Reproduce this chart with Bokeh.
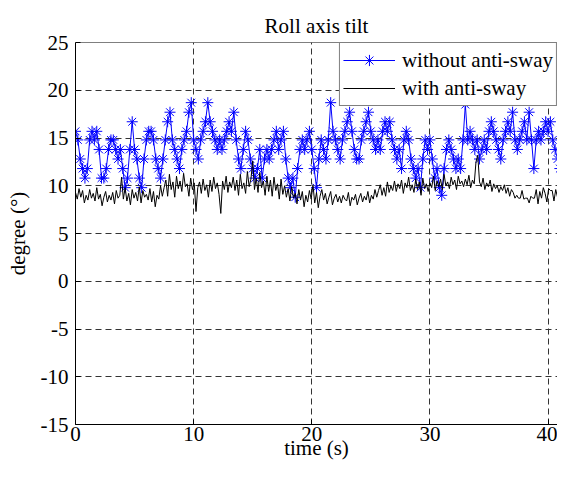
import numpy as np
from bokeh.plotting import figure
from bokeh.models import Range1d, FixedTicker, Legend, LegendItem, Span
from bokeh.embed import file_html
from bokeh.resources import INLINE

FONT = "Liberation Serif"

title_text = "Roll axis tilt"
x_label = "time (s)"
y_label = "degree (\u00b0)"
x_ticks = [0, 10, 20, 30, 40]
y_ticks = [-15, -10, -5, 0, 5, 10, 15, 20, 25]
y_tick_labels = ["-15", "-10", "-5", "0", "5", "10", "15", "20", "25"]
series_names = ["without anti-sway", "with anti-sway"]

# sample interval (s) of each recording
dt_without = 0.2
dt_with = 0.15

without_sway = [
    15.7, 14.8, 12.8, 11.8, 10.8,
    11.8, 14.8, 15.7, 14.8, 15.7,
    13.8, 10.8, 10.8, 11.8, 13.8,
    14.8, 14.8, 13.8, 12.8, 13.8,
    11.8, 9.8, 10.8, 13.8, 16.7,
    13.8, 12.8, 10.8, 9.8, 12.8,
    14.8, 15.7, 15.7, 14.8, 12.8,
    11.8, 10.8, 12.8, 14.8, 16.7,
    17.7, 14.8, 13.8, 12.8, 11.8,
    13.8, 14.8, 15.7, 17.7, 18.7,
    14.8, 13.8, 12.8, 14.8, 15.7,
    16.7, 18.7, 16.7, 15.7, 14.8,
    13.8, 14.8, 13.8, 14.8, 15.7,
    16.7, 15.7, 17.7, 14.8, 12.8,
    11.8, 13.8, 15.7, 14.8, 12.8,
    11.8, 10.8, 11.8, 13.8, 10.8,
    12.8, 13.8, 12.8, 13.8, 14.8,
    15.7, 13.8, 14.8, 15.7, 12.8,
    10.8, 9.8, 10.8, 8.8, 11.8,
    13.8, 14.8, 13.8, 14.8, 15.7,
    13.8, 11.8, 9.8, 12.8, 14.8,
    13.8, 12.8, 14.8, 18.7, 15.7,
    14.8, 13.8, 12.8, 14.8, 15.7,
    16.7, 17.7, 15.7, 13.8, 12.8,
    12.8, 14.8, 15.7, 16.7, 17.7,
    15.7, 14.8, 13.8, 14.8, 13.8,
    15.7, 16.7, 15.7, 16.7, 14.8,
    13.8, 12.8, 13.8, 11.8, 14.8,
    15.7, 14.8, 12.8, 11.8, 10.8,
    11.8, 9.8, 12.8, 14.8, 13.8,
    14.8, 12.8, 10.8, 11.8, 9.8,
    9.0, 11.8, 13.8, 14.8, 13.8,
    12.8, 11.8, 12.8, 11.8, 14.8,
    18.5, 14.8, 15.7, 14.8, 13.8,
    14.8, 12.8, 13.8, 14.8, 13.8,
    15.7, 16.7, 15.7, 14.8, 13.8,
    12.8, 14.8, 15.7, 16.7, 15.7,
    17.7, 14.8, 13.8, 14.8, 15.7,
    16.7, 14.8, 17.7, 14.8, 11.8,
    14.8, 15.7, 14.8, 15.7, 16.7,
    15.7, 16.7, 14.8, 13.8, 12.8,
    11.8, 13.8, 14.8, 15.7, 16.7,
    14.8,
]

with_sway = [
    9.3, 8.6, 9.7, 8.8, 9.5, 8.2, 9.0, 8.5, 9.6, 8.7,
    9.2, 8.4, 9.8, 8.6, 9.1, 7.9, 8.8, 9.4, 8.3, 9.0,
    8.5, 9.3, 8.1, 9.5, 8.7, 9.0, 10.9, 8.6, 9.8, 8.4,
    9.2, 8.0, 9.6, 8.7, 9.3, 8.4, 9.9, 8.2, 9.5, 8.8,
    9.1, 8.5, 9.7, 8.3, 9.4, 7.8, 9.0, 8.6, 10.0, 8.9,
    9.8, 10.6, 8.9, 11.2, 9.6, 10.4, 8.8, 11.0, 9.7, 10.5,
    9.4, 11.3, 9.9, 10.2, 8.9, 10.8, 9.6, 10.3, 7.3, 9.8,
    10.4, 9.2, 10.7, 9.5, 10.1, 8.8, 10.6, 9.4, 10.9, 9.7,
    10.3, 9.1, 7.1, 10.5, 9.6, 11.0, 9.3, 10.4, 9.8, 10.9,
    9.5, 10.6, 9.0, 11.2, 9.7, 10.3, 9.2, 11.5, 9.9, 10.7,
    12.6, 9.6, 10.8, 9.3, 11.4, 9.8, 10.5, 9.0, 11.0, 9.4,
    10.6, 8.9, 10.9, 9.5, 10.2, 8.6, 10.7, 9.1, 10.0, 8.8,
    9.7, 8.4, 9.9, 8.7, 9.2, 8.1, 9.6, 8.5, 9.4, 7.8,
    9.0, 8.3, 9.5, 8.6, 10.1, 8.2, 9.3, 7.7, 8.9, 9.6,
    8.5, 9.2, 8.1, 8.8, 9.4, 8.0, 8.7, 9.1, 8.3, 8.9,
    8.2, 9.0, 8.6, 8.4, 9.3, 7.9, 8.8, 8.5, 9.1, 8.0,
    8.7, 9.2, 8.3, 8.9, 8.5, 9.4, 8.2, 9.0, 8.6, 9.6,
    8.8, 9.5, 10.1, 9.0, 9.8, 8.9, 10.4, 9.3, 10.0, 9.5,
    10.5, 9.4, 10.2, 9.7, 10.6, 9.2, 10.3, 9.8, 10.9, 9.5,
    10.1, 9.3, 10.7, 9.6, 10.4, 9.0, 10.8, 9.7, 10.2, 9.4,
    10.3, 9.8, 11.0, 9.5, 10.5, 9.9, 10.7, 9.6, 11.2, 10.0,
    10.4, 9.7, 10.9, 10.1, 10.6, 9.6, 11.0, 10.2, 10.5, 9.9,
    10.7, 10.1, 11.1, 9.8, 10.6, 10.2, 12.5, 13.2, 10.4, 9.9,
    10.8, 9.6, 10.3, 9.9, 10.6, 9.4, 10.2, 9.7, 10.0, 9.3,
    9.9, 9.5, 10.1, 9.2, 9.8, 8.9, 9.6, 9.3, 8.7, 9.0,
    8.7, 8.7, 9.5, 8.6, 8.7, 8.7, 8.2, 8.9, 8.7, 8.7,
    9.6, 8.1, 9.4, 8.7, 9.8, 9.2, 8.3, 9.7, 9.5, 9.5,
    8.4, 9.6, 8.8, 8.2, 9.5, 9.0, 8.7, 9.3, 8.5, 9.8,
    9.0,
]

t_without = np.arange(len(without_sway)) * dt_without
t_with = np.arange(len(with_sway)) * dt_with

p = figure(width=557, height=462, output_backend="svg", toolbar_location=None,
           x_range=Range1d(0, 40.8), y_range=Range1d(-15, 25),
           min_border_left=75, min_border_right=0, min_border_top=42,
           min_border_bottom=38, background_fill_color="white",
           border_fill_color="white", outline_line_color=None)

p.title.text = title_text
p.title.align = "center"
p.title.text_font = FONT
p.title.text_font_size = "21px"
p.title.text_font_style = "normal"
p.title.text_color = "black"
p.title.standoff = 9

for ax, ticks in ((p.xaxis, x_ticks), (p.yaxis, y_ticks)):
    ax.ticker = FixedTicker(ticks=ticks)
    ax.major_tick_in = 5
    ax.major_tick_out = 0
    ax.minor_tick_line_color = None
    ax.axis_line_color = "black"
    ax.major_tick_line_color = "black"
    ax.major_label_text_font = FONT
    ax.major_label_text_font_size = "21px"
    ax.major_label_text_color = "black"
    ax.axis_label_text_font = FONT
    ax.axis_label_text_font_size = "21px"
    ax.axis_label_text_font_style = "normal"
    ax.axis_label_text_color = "black"

p.yaxis.major_label_overrides = {t: s for t, s in zip(y_ticks, y_tick_labels)}
p.xaxis.axis_label = x_label
p.yaxis.axis_label = y_label
p.xaxis.major_label_standoff = 2
p.xaxis.axis_label_standoff = -8
p.yaxis.major_label_standoff = 7
p.yaxis.axis_label_standoff = 8

p.add_layout(Span(location=25, dimension="width", line_color="black", line_width=1))

for g, ticks in ((p.xgrid, x_ticks), (p.ygrid, y_ticks)):
    g.ticker = FixedTicker(ticks=ticks)
    g.grid_line_color = "#333333"
    g.grid_line_dash = "6 4"
    g.grid_line_width = 1

r1 = p.line(t_without, without_sway, line_color="#0000ff", line_width=1)
r1m = p.scatter(t_without, without_sway, marker="asterisk", size=11,
                line_color="#0000ff", line_width=1)
r2 = p.line(t_with, with_sway, line_color="black", line_width=1)

legend = Legend(items=[LegendItem(label=series_names[0], renderers=[r1, r1m]),
                       LegendItem(label=series_names[1], renderers=[r2])],
                location="top_right", margin=0, padding=3, spacing=0,
                glyph_width=52, glyph_height=28, label_standoff=7,
                label_text_font=FONT, label_text_font_size="21px",
                label_text_color="black", border_line_color="black",
                border_line_width=1, background_fill_color="white",
                background_fill_alpha=1.0)
p.add_layout(legend)

open("out.html", "w").write(file_html(p, INLINE))
